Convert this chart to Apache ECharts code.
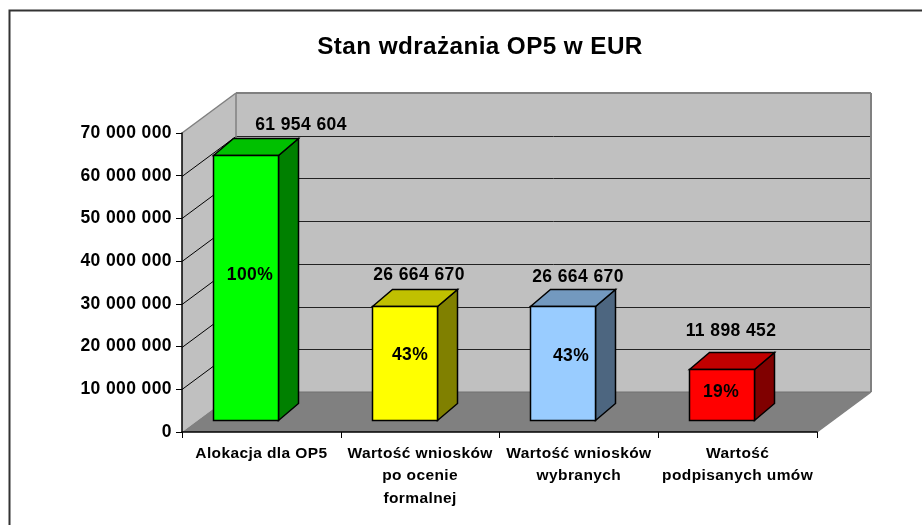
<!DOCTYPE html>
<html><head><meta charset="utf-8">
<style>html,body{margin:0;padding:0;background:#fff}#c{width:922px;height:525px}</style>
<script src="https://cdn.jsdelivr.net/npm/echarts@6/dist/echarts.min.js"></script>
</head><body><div id="c"></div>
<script>
const titleText = 'Stan wdrażania OP5 w EUR';
const categories = ['Alokacja dla OP5', 'Wartość wniosków\npo ocenie\nformalnej', 'Wartość wniosków\nwybranych', 'Wartość\npodpisanych umów'];
const values = [61954604, 26664670, 26664670, 11898452];
const percents = ['100%', '43%', '43%', '19%'];
const yTicks = [0, 10000000, 20000000, 30000000, 40000000, 50000000, 60000000, 70000000];
const faceColors = ['#00FF00', '#FFFF00', '#99CCFF', '#FF0000'];
const topColors = ['#00C000', '#C0C000', '#7399BF', '#C00000'];
const sideColors = ['#008000', '#808000', '#4D6680', '#800000'];
const valueLabelShift = [[55, -30], [14, -31], [15, -29], [9, -38]];
const percentLabelShift = [[4, -13], [5, -8], [8, -7], [-1, -3]];

// The reference's text is set slightly wider than the font's own metrics.
const nativeFillText = CanvasRenderingContext2D.prototype.fillText;
CanvasRenderingContext2D.prototype.fillText = function (...args) {
  this.letterSpacing = '0.4px';
  return nativeFillText.apply(this, args);
};

const FONT = '"Liberation Sans", Arial, sans-serif';
const wall = [54, -40];      // depth of the chart box
const barDepth = [20, -17];  // depth of each bar
const barShift = [-16, -12];
const barW = 65;
const fmt = v => String(v).replace(/\B(?=(\d{3})+$)/g, ' ');

function poly(points, fill, stroke, lw) {
  return { type: 'polygon', shape: { points }, style: { fill, stroke: stroke || null, lineWidth: lw || 0 }, silent: true };
}
function seg(x1, y1, x2, y2, stroke, lw) {
  return { type: 'line', shape: { x1, y1, x2, y2 }, style: { stroke, lineWidth: lw || 1 }, silent: true };
}
function renderBox(params, api) {
  const c = params.coordSys, L = c.x, R = c.x + c.width, T = c.y, B = c.y + c.height;
  const dx = wall[0], dy = wall[1], ch = [];
  ch.push(poly([[L + dx, T + dy], [R + dx, T + dy], [R + dx, B + dy], [L + dx, B + dy]], '#C0C0C0'));
  ch.push(poly([[L, T], [L + dx, T + dy], [L + dx, B + dy], [L, B]], '#C0C0C0'));
  ch.push(poly([[L, B], [R, B], [R + dx, B + dy], [L + dx, B + dy]], '#808080'));
  yTicks.forEach(t => {
    if (t === 0 || t === yTicks[yTicks.length - 1]) return;
    const y = Math.round(api.coord([0, t])[1]) + 0.5;
    ch.push(seg(L, y, L + dx, y + dy, '#000', 1));
    ch.push(seg(L + dx, y + dy, R + dx, y + dy, '#222', 1));
  });
  ch.push(seg(L, T, L + dx, T + dy, '#808080', 1.5));
  ch.push(seg(L + dx, T + dy, R + dx, T + dy, '#808080', 2));
  ch.push(seg(R + dx, T + dy, R + dx, B + dy, '#808080', 2));
  ch.push(seg(L + dx, T + dy, L + dx, B + dy, '#808080', 1.5));
  ch.push(seg(L + dx, B + dy, R + dx, B + dy, '#707070', 1));
  ch.push(seg(R, B, R + dx, B + dy, '#808080', 1.5));
  return { type: 'group', children: ch };
}
function renderBar(params, api) {
  const i = api.value(0), v = api.value(1);
  const base = api.coord([i, 0]), top = api.coord([i, v]);
  const x0 = Math.round(base[0] + barShift[0] - barW / 2) + 0.5, x1 = x0 + barW;
  const yB = Math.round(base[1] + barShift[1]) + 0.5, yT = Math.round(top[1] + barShift[1]) + 0.5;
  const dx = barDepth[0], dy = barDepth[1];
  const k = '#000', lw = 1.5;
  const cx = (x0 + x1) / 2, cy = (yT + yB) / 2;
  const txt = (s, x, y) => ({ type: 'text', silent: true, z2: 50, style: { text: s, x, y, align: 'center', verticalAlign: 'middle', font: 'bold 17.5px ' + FONT, fill: '#000' } });
  return { type: 'group', children: [
    poly([[x1, yT], [x1 + dx, yT + dy], [x1 + dx, yB + dy], [x1, yB]], sideColors[i], k, lw),
    poly([[x0, yT], [x0 + dx, yT + dy], [x1 + dx, yT + dy], [x1, yT]], topColors[i], k, lw),
    poly([[x0, yT], [x1, yT], [x1, yB], [x0, yB]], faceColors[i], k, lw),
    txt(percents[i], cx + percentLabelShift[i][0], cy + percentLabelShift[i][1]),
    txt(fmt(values[i]), cx + valueLabelShift[i][0], yT + valueLabelShift[i][1])
  ] };
}
const chart = echarts.init(document.getElementById('c'), null, { renderer: 'canvas' });
chart.setOption({
  animation: false,
  backgroundColor: '#fff',
  title: { text: titleText, left: 475, top: 27, textAlign: 'center',
    textStyle: { fontFamily: FONT, fontWeight: 'bold', fontSize: 24.3, color: '#000', lineHeight: 30 } },
  grid: { left: 182, right: 105, top: 133, bottom: 93 },
  xAxis: { type: 'category', data: categories, z: 10,
    axisLine: { show: true, lineStyle: { color: '#000', width: 1.5 } },
    axisTick: { show: true, length: 6, alignWithLabel: false, lineStyle: { color: '#000' } },
    axisLabel: { interval: 0, margin: 10, hideOverlap: false, fontFamily: FONT, fontWeight: 'bold', fontSize: 15.5, lineHeight: 22.5, color: '#000' } },
  yAxis: { type: 'value', min: 0, max: 70000000, interval: 10000000, z: 10,
    axisLine: { show: true, lineStyle: { color: '#000', width: 1.5 } },
    axisTick: { show: true, length: 6, lineStyle: { color: '#000' } },
    splitLine: { show: false },
    axisLabel: { margin: 10, fontFamily: FONT, fontWeight: 'bold', fontSize: 17.5, color: '#000', formatter: fmt } },
  graphic: [{ type: 'rect', left: 7, top: 8, silent: true, z: -10,
    shape: { x: 0, y: 0, width: 940, height: 540 }, style: { fill: 'none', stroke: '#333', lineWidth: 2 } }],
  series: [
    { type: 'custom', coordinateSystem: 'cartesian2d', renderItem: renderBox, data: [[0, 0]], z: 1, silent: true, clip: false },
    { type: 'custom', coordinateSystem: 'cartesian2d', renderItem: renderBar, data: values.map((v, i) => [i, v]), z: 2, silent: true, clip: false }
  ]
});
</script></body></html>
